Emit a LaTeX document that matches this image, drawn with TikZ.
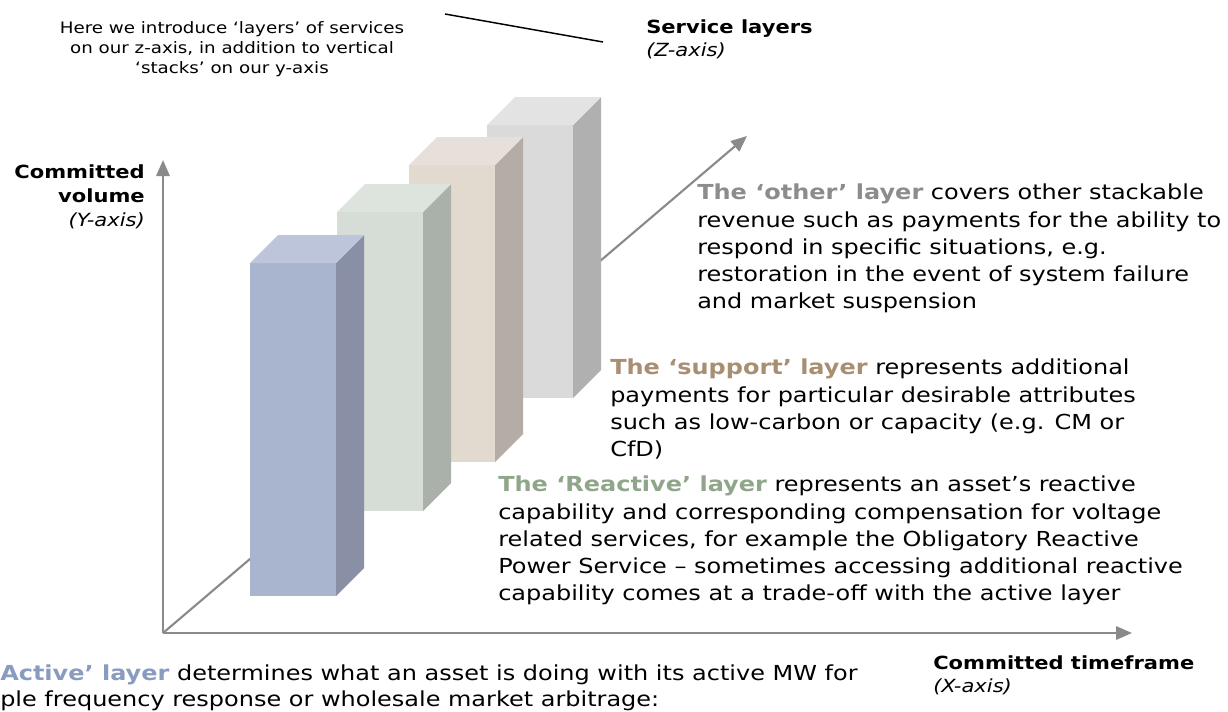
\documentclass[tikz,border=0pt]{standalone}
\usepackage{fontspec}
\setmainfont{DejaVu Sans}[FakeStretch=1.16]
\usetikzlibrary{arrows.meta, positioning}

\definecolor{activeblue}{HTML}{8A9BC0}
\definecolor{reactgreen}{HTML}{8FA68A}
\definecolor{supportbrown}{HTML}{A88E72}
\definecolor{othergrey}{HTML}{8C8C8C}
\definecolor{axisgrey}{HTML}{8A8A8A}

% one layer bar: left x, top y, bottom y, front, side, top colours
\newcommand{\layerbar}[6]{%
  \fill[#4] (#1,#2) rectangle (#1+86,#3);
  \fill[#5] (#1+86,#2) -- (#1+114,#2-28) -- (#1+114,#3-28) -- (#1+86,#3) -- cycle;
  \fill[#6] (#1,#2) -- (#1+28,#2-28) -- (#1+114,#2-28) -- (#1+86,#2) -- cycle;
}

\begin{document}
\begin{tikzpicture}[x=0.75pt, y=-0.75pt,
    axis/.style={-{Triangle[length=12pt, width=10pt]}, line width=1.6pt, draw=axisgrey},
    body/.style={inner sep=0, align=left, font=\fontsize{15.5}{20.3}\selectfont},
    axislabel/.style={inner sep=0, font=\fontsize{13.6}{17.5}\selectfont},
    note/.style={inner sep=0, align=center, font=\fontsize{11.8}{15}\selectfont}
]
    \useasboundingbox (0,0) rectangle (1228,711);

    % axes
    \coordinate (origin) at (163,633);
    \coordinate (ytip) at (163,160);
    \coordinate (xtip) at (1132,633);
    \coordinate (ztip) at (747,136);
    \draw[axis] (origin) -- (ztip);
    \draw[axis] (origin) -- (ytip);
    \draw[axis] (origin) -- (xtip);

    % bars, back to front
    \definecolor{fA}{HTML}{DADADA}\definecolor{sA}{HTML}{B0B0B0}\definecolor{tA}{HTML}{E3E3E3}
    \definecolor{fB}{HTML}{E2D9CF}\definecolor{sB}{HTML}{B5ACA6}\definecolor{tB}{HTML}{E7DFD9}
    \definecolor{fC}{HTML}{D6DDD6}\definecolor{sC}{HTML}{AAB1AA}\definecolor{tC}{HTML}{DDE3DD}
    \definecolor{fD}{HTML}{A9B5CE}\definecolor{sD}{HTML}{8990A6}\definecolor{tD}{HTML}{BCC5DA}
    \layerbar{487}{125}{398}{fA}{sA}{tA}
    \layerbar{409}{165}{462}{fB}{sB}{tB}
    \layerbar{337}{212}{511}{fC}{sC}{tC}
    \layerbar{250}{263}{596}{fD}{sD}{tD}

    % labels
    \node[note] (intro) at (232,49) {Here we introduce ‘layers’ of services\\on our z-axis, in addition to vertical\\‘stacks’ on our y-axis};
    \coordinate (leadA) at (445,14);
    \coordinate (leadB) at (603,42);
    \draw[line width=1.1pt] (leadA) -- (leadB);

    \node[axislabel, anchor=north west, align=left] (zlabel) at (646,19)
        {\textbf{Service layers}\\\textit{(Z-axis)}};
    \node[axislabel, anchor=north east, align=right, font=\fontsize{13.6}{18}\selectfont] (ylabel) at (145,164)
        {\textbf{Committed}\\\textbf{volume}\\\textit{(Y-axis)}};
    \node[axislabel, anchor=north west, align=left] (xlabel) at (933,655)
        {\textbf{Committed timeframe}\\\textit{(X-axis)}};

    \node[body, anchor=north west] (other) at (697,184)
        {\textcolor{othergrey}{\textbf{The ‘other’ layer}} covers other stackable\\revenue such as payments for the ability to\\respond in specific situations, e.g.\\restoration in the event of system failure\\and market suspension};
    \node[body, anchor=north west] (support) at (610,359)
        {\textcolor{supportbrown}{\textbf{The ‘support’ layer}} represents additional\\payments for particular desirable attributes\\such as low-carbon or capacity (e.g. CM or\\CfD)};
    \node[body, anchor=north west] (reactive) at (498,476)
        {\textcolor{reactgreen}{\textbf{The ‘Reactive’ layer}} represents an asset’s reactive\\capability and corresponding compensation for voltage\\related services, for example the Obligatory Reactive\\Power Service – sometimes accessing additional reactive\\capability comes at a trade-off with the active layer};
    \node[body, anchor=north west, font=\fontsize{15.5}{19}\selectfont] (active) at (0,665)
        {\textcolor{activeblue}{\textbf{Active’ layer}} determines what an asset is doing with its active MW for\\ple frequency response or wholesale market arbitrage:};
\end{tikzpicture}
\end{document}
